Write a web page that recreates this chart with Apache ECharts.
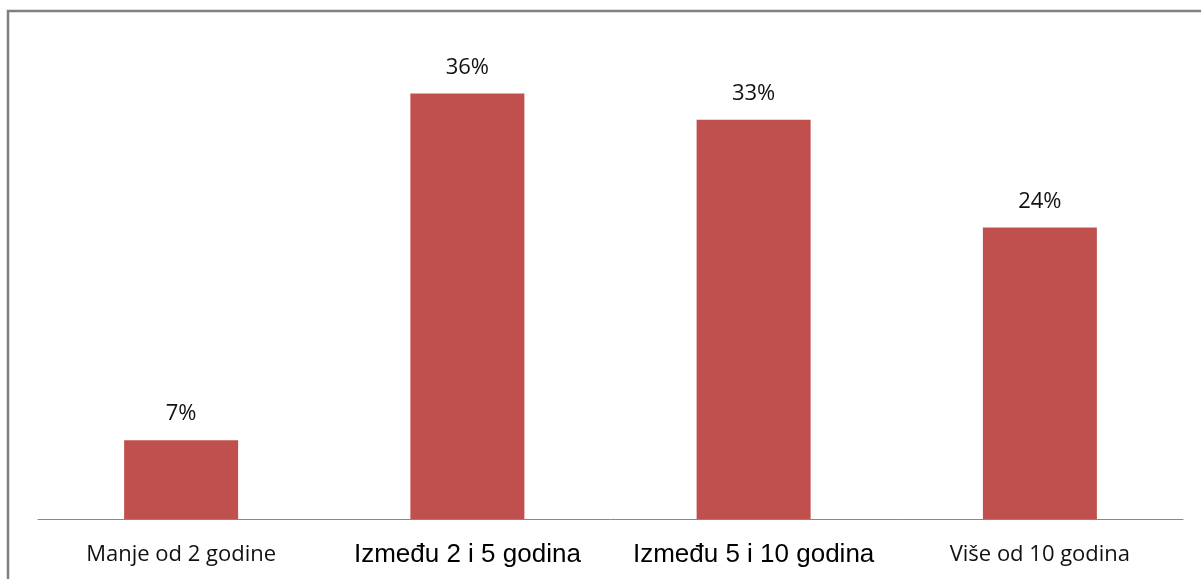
<!DOCTYPE html>
<html>
<head>
<meta charset="utf-8">
<script src="https://cdn.jsdelivr.net/npm/echarts@6/dist/echarts.min.js"></script>
<style>
    html, body { margin: 0; padding: 0; background: #fff; }
    #chart { width: 1201px; height: 579px; }
</style>
</head>
<body>
<div id="chart"></div>
<script>
var categories = ['Manje od 2 godine', 'Između 2 i 5 godina', 'Između 5 i 10 godina', 'Više od 10 godina'];
var values = [6.6, 35.6, 33.4, 24.4];
// labels in the original use two different fonts
var labelStyle = ['c', 'a', 'a', 'c'];

var myChart = echarts.init(document.getElementById('chart'));

var option = {
    animation: false,
    backgroundColor: '#fff',
    graphic: [{
        type: 'rect',
        shape: {x: 8, y: 11, width: 1400, height: 800},
        style: {fill: 'none', stroke: '#808080', lineWidth: 2.5},
        silent: true
    }],
    grid: {left: 38, right: 18, top: 41, bottom: 60},
    xAxis: {
        type: 'category',
        data: categories,
        axisLine: {lineStyle: {color: '#888', width: 1}},
        axisTick: {show: false},
        axisLabel: {
            interval: 0,
            margin: 21,
            formatter: function (value, idx) {
                return '{' + labelStyle[idx] + '|' + value + '}';
            },
            rich: {
                c: {fontFamily: 'Open Sans', fontSize: 22, lineHeight: 30, color: '#111'},
                a: {fontFamily: 'Liberation Sans', fontSize: 26, lineHeight: 30, color: '#000'}
            }
        }
    },
    yAxis: {
        type: 'value',
        min: 0,
        max: 40,
        show: false,
        splitLine: {show: false}
    },
    series: [{
        type: 'bar',
        data: values,
        barWidth: 114,
        itemStyle: {color: '#C0504D'},
        label: {
            show: true,
            position: 'top',
            distance: 15,
            fontFamily: 'Open Sans',
            fontSize: 22,
            color: '#111',
            formatter: function (p) {
                return Math.round(p.value) + '%';
            }
        }
    }]
};

myChart.setOption(option);
</script>
</body>
</html>
